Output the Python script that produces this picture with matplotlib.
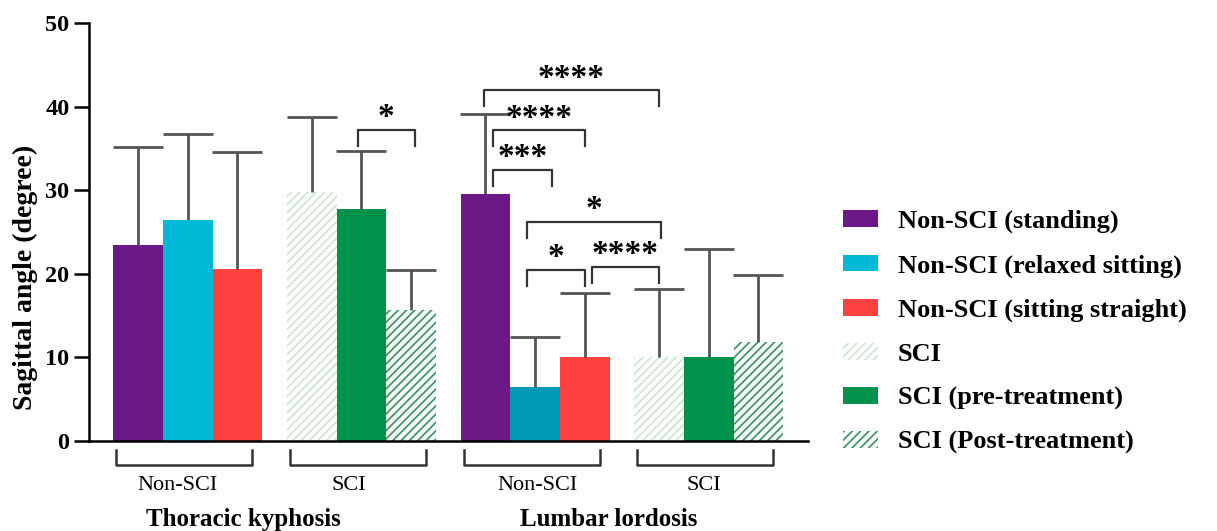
import numpy as np
import matplotlib.pyplot as plt

plt.rcParams['font.family'] = ['Liberation Serif', 'DejaVu Serif']
plt.rcParams['hatch.linewidth'] = 1.2

# data
series = ['Non-SCI (standing)', 'Non-SCI (relaxed sitting)', 'Non-SCI (sitting straight)',
          'SCI', 'SCI (pre-treatment)', 'SCI (Post-treatment)']
thoracic_mean = [23.5, 26.4, 20.6, 29.8, 27.8, 15.7]
thoracic_sd = [11.7, 10.3, 14.0, 9.0, 6.9, 4.7]
lumbar_mean = [29.5, 6.5, 10.1, 10.1, 10.0, 11.9]
lumbar_sd = [9.6, 6.0, 7.6, 8.1, 13.0, 7.9]
regions = ['Thoracic kyphosis', 'Lumbar lordosis']
groups = ['Non-SCI', 'SCI']

# significance brackets: (left x, right x, height, label)
thoracic_sig = [(4.93, 6.08, 37.2, '*')]
lumbar_sig = [(7.47, 10.99, 41.95, '****'),
              (7.66, 9.5, 37.15, '****'),
              (7.66, 8.84, 32.45, '***'),
              (8.33, 11.03, 26.2, '*'),
              (8.33, 9.5, 20.5, '*'),
              (9.65, 10.99, 20.8, '****')]

faces = ['#6B1987', '#00B9D6', '#FF4141', 'white', '#00924A', '#F4FAF6']
lumbar_cyan = '#0099B6'
edges = ['#6B1987', '#00B9D6', '#FF4141', '#C8E5D1', '#00924A', '#3F8F60']
hatches = [None, None, None, '////', None, '////']

fig = plt.figure(figsize=(12.17, 5.31), dpi=100)
ax = fig.add_axes([89 / 1217, 90 / 531, 719 / 1217, 418 / 531])

width = 1.0
for r, (means, sds) in enumerate([(thoracic_mean, thoracic_sd), (lumbar_mean, lumbar_sd)]):
    for i in range(6):
        x = r * 7 + (i // 3) * 3.5 + (i % 3) + 0.5
        fc = faces[i]
        ec = edges[i]
        if r == 1 and i == 1:
            fc = ec = lumbar_cyan
        ax.bar(x, means[i], width=width, color=fc, edgecolor=ec, hatch=hatches[i],
               linewidth=0, label=series[i] if r == 0 else None, zorder=2)
        eb = ax.errorbar(x, means[i], yerr=[[0], [sds[i]]], color='#555555', elinewidth=2,
                         capsize=18, capthick=2, zorder=3)
        eb[1][0].set_visible(False)  # no cap at the bar top

# significance brackets
for x1, x2, y, lab in thoracic_sig + lumbar_sig:
    ax.plot([x1, x1, x2, x2], [y - 1.9, y, y, y - 1.9], color='#333333', lw=1.6,
            zorder=4, clip_on=False)
    ax.text((x1 + x2) / 2, y + 0.45, lab, ha='center', va='baseline', fontsize=24,
            fontweight='bold', zorder=5)

# group brackets under the axis
for r in range(2):
    for g in range(2):
        x0 = r * 7 + g * 3.5 + 0.06
        x1 = x0 + 2.74
        ax.plot([x0, x0, x1, x1], [-1.1, -2.9, -2.9, -1.1], color='#333333', lw=1.8,
                clip_on=False)
group_label_x = [1.3, 4.75, 8.55, 11.9]
for k, gx in enumerate(group_label_x):
    ax.text(gx, -5.3, groups[k % 2], ha='center', va='center', fontsize=16)
for r, rx in enumerate([2.63, 9.99]):
    ax.text(rx, -9.4, regions[r], ha='center', va='center', fontsize=18,
            fontweight='bold')

ax.set_xlim(-0.49, 14.0)
ax.set_ylim(0, 50)
ax.set_yticks([0, 10, 20, 30, 40, 50])
ax.set_xticks([])
ax.tick_params(axis='y', length=11, width=1.8, labelsize=17.5, pad=3)
for t in ax.get_yticklabels():
    t.set_fontweight('bold')
for s in ['top', 'right']:
    ax.spines[s].set_visible(False)
for s in ['left', 'bottom']:
    ax.spines[s].set_linewidth(1.8)

fig.text(25 / 1217, 1 - 277 / 531, 'Sagittal angle (degree)', rotation=90,
         ha='center', va='center', fontsize=20, fontweight='bold')

fig.legend(loc='upper left', bbox_to_anchor=(843 / 1217, 1 - 210 / 531), frameon=False,
           prop={'weight': 'bold', 'size': 19}, handlelength=1.33, handleheight=0.6,
           handletextpad=0.75, labelspacing=0.79, borderpad=0, borderaxespad=0)

plt.savefig('out.png', dpi=100)
